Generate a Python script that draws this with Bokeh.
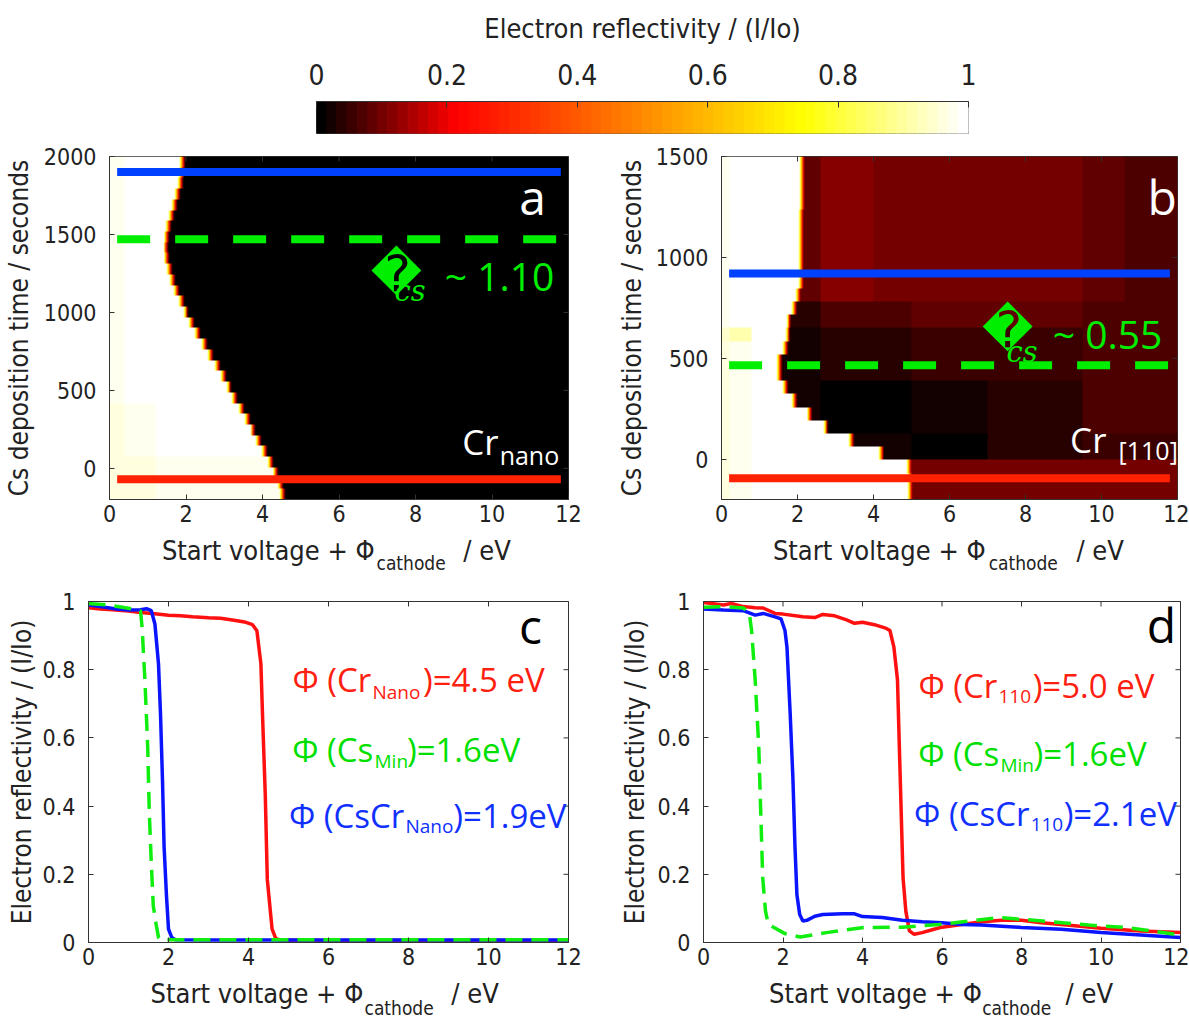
import numpy as np
from bokeh.plotting import figure
from bokeh.models import FixedTicker, Label, LinearColorMapper, Range1d
from bokeh.layouts import column, row
from bokeh.embed import file_html
from bokeh.resources import INLINE

# ---------------------------------------------------------------- data
energy_ticks = [0, 2, 4, 6, 8, 10, 12]
a_time_ticks = [0, 500, 1000, 1500, 2000]
b_time_ticks = [0, 500, 1000, 1500]
refl_ticks = [0, 0.2, 0.4, 0.6, 0.8, 1]
refl_tick_labels = ["0", "0.2", "0.4", "0.6", "0.8", "1"]

# stepped "hot" colour scale
cmap_stops = [0.0, 0.21, 0.75, 1.0]
cmap_red = [0, 255, 255, 255]
cmap_green = [0, 0, 255, 255]
cmap_blue = [0, 0, 0, 255]
n_levels = 64

# panel a : Cr nano map (rows bottom -> top, 32 rows over -200..2000 s)
a_time_span = [-200, 2000]
a_edge_eV = [4.50, 4.45, 4.33, 4.18, 4.02, 3.87, 3.72, 3.58, 3.42, 3.25, 3.10,
             2.95, 2.79, 2.62, 2.45, 2.28, 2.12, 1.97, 1.84, 1.72, 1.62, 1.54,
             1.48, 1.46, 1.47, 1.53, 1.60, 1.68, 1.76, 1.82, 1.86, 1.87]
a_plateau_t = [-200, 100, 400, 800, 2000]
a_plateau_e = [0, 0.4, 1.2, 12]
a_plateau = [[0.955, 0.96, 0.97],
             [0.96, 0.97, 0.985],
             [0.97, 0.985, 0.995],
             [0.975, 0.995, 0.995]]
a_dark = 0.012

# panel b : Cr[110] map (rows bottom -> top, 26 rows over -200..1500 s)
b_time_span = [-200, 1500]
b_edge_eV = [4.95, 4.95, 4.92, 4.17, 3.39, 2.73, 2.29, 1.90, 1.64, 1.50, 1.50,
             1.64, 1.72, 1.76, 1.90, 2.01, 2.07, 2.07, 2.08, 2.08, 2.08, 2.08,
             2.09, 2.09, 2.10, 2.10]
b_plateau_t = [-200, 0, 560, 680, 1500]
b_plateau_e = [0, 0.2, 0.8, 12]
b_plateau = [[0.96, 0.97, 0.985],
             [0.965, 0.975, 0.99],
             [0.95, 0.91, 0.985],
             [0.975, 0.985, 0.995]]
b_dark_t = [-200, 0, 150, 400, 650, 800, 1500]
b_dark_e = [0, 2.6, 4, 5, 7, 9.5, 10.6, 12]
b_dark = [[0.086, 0.086, 0.086, 0.102, 0.102, 0.102, 0.102],
          [0.023, 0.023, 0.023, 0.008, 0.039, 0.055, 0.055],
          [0.023, 0.008, 0.008, 0.023, 0.039, 0.070, 0.070],
          [0.023, 0.039, 0.039, 0.055, 0.055, 0.070, 0.070],
          [0.039, 0.070, 0.070, 0.086, 0.086, 0.070, 0.070],
          [0.086, 0.117, 0.102, 0.102, 0.102, 0.086, 0.070]]

# reflectivity profile across a cut-off edge (0.025 eV columns)
edge_profile = [0.90, 0.72, 0.50, 0.30, 0.15, 0.06]

# spectra marked on the maps
a_spec_time = [-70, 1470, 1900]
b_spec_time = [-95, 465, 920]
spec_colors = ["#ff2200", "#00ee00", "#0040ff"]
spec_dash = ["solid", "33 25", "solid"]
spec_span = [0.2, 11.8]

# panel c : Cr nano reflectivity curves
c_red_x = [0, 0.3, 0.6, 1.0, 1.3, 1.6, 2.0, 2.3, 2.6, 3.0, 3.3, 3.6, 3.9, 4.1,
           4.21, 4.31, 4.35, 4.42, 4.47, 4.51, 4.59, 4.68, 4.8, 6, 8, 10, 12]
c_red_y = [0.982, 0.978, 0.976, 0.972, 0.968, 0.965, 0.960, 0.958, 0.955, 0.952,
           0.951, 0.946, 0.940, 0.932, 0.914, 0.817, 0.67, 0.43, 0.185, 0.136,
           0.039, 0.012, 0.007, 0.006, 0.006, 0.006, 0.006]
c_blue_x = [0, 0.3, 0.7, 1.0, 1.3, 1.45, 1.57, 1.66, 1.75, 1.8, 1.85, 1.89, 1.95,
            2.0, 2.08, 2.17, 3, 6, 9, 12]
c_blue_y = [0.99, 0.985, 0.978, 0.975, 0.976, 0.979, 0.973, 0.934, 0.817, 0.67,
            0.475, 0.28, 0.136, 0.039, 0.015, 0.008, 0.007, 0.007, 0.007, 0.007]
c_green_x = [0, 0.5, 1.0, 1.3, 1.34, 1.41, 1.48, 1.52, 1.57, 1.62, 1.69, 1.75,
             1.8, 3, 6, 9, 12]
c_green_y = [0.994, 0.99, 0.98, 0.973, 0.924, 0.77, 0.574, 0.38, 0.233, 0.107,
             0.054, 0.015, 0.008, 0.008, 0.008, 0.008, 0.008]

# panel d : Cr[110] reflectivity curves
d_red_x = [0, 0.3, 0.5, 0.7, 1.0, 1.3, 1.5, 1.8, 2.0, 2.5, 2.8, 3.0, 3.3, 3.6,
           3.8, 4.0, 4.3, 4.6, 4.69, 4.79, 4.88, 4.95, 5.02, 5.09, 5.18, 5.3,
           5.5, 5.8, 6.0, 6.5, 7.0, 7.5, 8.0, 8.5, 9.0, 10.0, 11.0, 12.0]
d_red_y = [0.997, 0.993, 0.99, 0.994, 0.985, 0.982, 0.981, 0.965, 0.963, 0.955,
           0.953, 0.962, 0.958, 0.946, 0.936, 0.939, 0.932, 0.921, 0.915, 0.866,
           0.77, 0.479, 0.19, 0.092, 0.034, 0.024, 0.029, 0.039, 0.045, 0.053,
           0.061, 0.065, 0.065, 0.058, 0.053, 0.042, 0.034, 0.029]
d_blue_x = [0, 0.5, 1.0, 1.3, 1.5, 1.8, 1.95, 2.05, 2.1, 2.18, 2.25, 2.3, 2.35,
            2.42, 2.5, 2.6, 2.8, 3.0, 3.5, 3.8, 4.0, 4.5, 5.0, 5.5, 6.0, 6.5,
            7.0, 7.5, 8.0, 9.0, 10.0, 11.0, 12.0]
d_blue_y = [0.978, 0.975, 0.973, 0.96, 0.965, 0.955, 0.949, 0.915, 0.866, 0.673,
            0.479, 0.285, 0.14, 0.082, 0.063, 0.065, 0.077, 0.082, 0.084, 0.084,
            0.076, 0.073, 0.065, 0.061, 0.058, 0.053, 0.051, 0.048, 0.044, 0.039,
            0.029, 0.022, 0.015]
d_green_x = [0, 0.5, 1.0, 1.15, 1.21, 1.3, 1.39, 1.44, 1.49, 1.56, 1.63, 2.05,
             2.43, 3.09, 4.03, 5.0, 5.92, 6.86, 7.43, 8.0, 8.75, 9.69, 10.63, 12.0]
d_green_y = [0.983, 0.985, 0.981, 0.968, 0.915, 0.77, 0.576, 0.382, 0.189, 0.092,
             0.053, 0.026, 0.016, 0.029, 0.044, 0.045, 0.053, 0.065, 0.073, 0.068,
             0.061, 0.051, 0.044, 0.022]
curve_colors = {"red": "#ff1010", "green": "#10ee10", "blue": "#0a14ff"}

# work-function annotations: (main, sub, rest, x_sub, x_rest, y_main, y_sub, colour)
c_notes = [("Φ (Cr", "Nano", ")=4.5 eV", 7.10, 8.36, 0.736, 0.716, "#ff2010"),
           ("Φ (Cs", "Min", ")=1.6eV", 7.15, 7.96, 0.531, 0.514, "#00e000"),
           ("Φ (CsCr", "Nano", ")=1.9eV", 7.925, 9.12, 0.338, 0.323, "#1030ff")]
d_notes = [("Φ (Cr", "110", ")=5.0 eV", 7.42, 8.28, 0.720, 0.703, "#ff2010"),
           ("Φ (Cs", "Min", ")=1.6eV", 7.47, 8.30, 0.520, 0.500, "#00e000"),
           ("Φ (CsCr", "110", ")=2.1eV", 8.23, 9.06, 0.345, 0.328, "#1030ff")]

# ---------------------------------------------------------------- styling
FC = "DejaVu Sans Condensed"
FT = "Open Sans"
AXC = "#333333"
TXC = "#222222"
OPEN_SANS_SHIFT = 0.35   # em; baseline correction measured for Open Sans labels

levels = np.arange(n_levels) / (n_levels - 1)
rr = np.interp(levels, cmap_stops, cmap_red)
gg = np.interp(levels, cmap_stops, cmap_green)
bb = np.interp(levels, cmap_stops, cmap_blue)
palette = ["#%02x%02x%02x" % (int(round(r)), int(round(g)), int(round(b))) for r, g, b in zip(rr, gg, bb)]
mapper = LinearColorMapper(palette=palette, low=0, high=1)


def lookup(grid, e_edges, t_edges, e, t):
    i = min(max(np.searchsorted(t_edges, t, side="right") - 1, 0), len(t_edges) - 2)
    j = min(max(np.searchsorted(e_edges, e, side="right") - 1, 0), len(e_edges) - 2)
    return grid[i][j]


def build_map(edges, span, plateau, pl_e, pl_t, dark_fn, n_cols=480, sub=11):
    n_rows = len(edges)
    dt = (span[1] - span[0]) / n_rows
    w = 12.0 / n_cols
    img = np.zeros((n_rows, n_cols))
    for r in range(n_rows):
        t = span[0] + (r + 0.5) * dt
        for c in range(n_cols):
            e = (c + 0.5) * w
            k = int(np.floor((e - edges[r]) / w)) + 2
            bg = dark_fn(e, t)
            if k < 0:
                v = lookup(plateau, pl_e, pl_t, e, t)
            elif k >= len(edge_profile):
                v = bg
            else:
                v = max(edge_profile[k], bg)
            img[r, c] = v
    return np.repeat(img, sub, axis=0)


def base_fig(width, height, bl, br, bt, bb_, yr, yticks, ylabel, ystand, yover=None):
    p = figure(width=width, height=height, x_range=Range1d(0, 12), y_range=Range1d(*yr),
               output_backend="svg", toolbar_location=None,
               min_border_left=bl, min_border_right=br, min_border_top=bt, min_border_bottom=bb_)
    p.grid.visible = False
    p.outline_line_color = AXC
    p.background_fill_color = "white"
    for ax, ticks, so in ((p.xaxis[0], energy_ticks, 5), (p.yaxis[0], yticks, 13)):
        ax.ticker = FixedTicker(ticks=ticks)
        ax.major_tick_in = 5
        ax.major_tick_out = 0
        ax.minor_tick_line_color = None
        ax.axis_line_color = AXC
        ax.major_tick_line_color = AXC
        ax.major_label_text_font = FC
        ax.major_label_text_font_size = "23px"
        ax.major_label_text_color = TXC
        ax.major_label_standoff = so
    if yover:
        p.yaxis[0].major_label_overrides = yover
    p.yaxis[0].axis_label = ylabel
    p.yaxis[0].axis_label_text_font = FC
    p.yaxis[0].axis_label_text_font_size = "26px"
    p.yaxis[0].axis_label_text_font_style = "normal"
    p.yaxis[0].axis_label_text_color = TXC
    p.yaxis[0].axis_label_standoff = ystand
    return p


def mirror_ticks(p, yticks):
    # inward tick marks on the top and right frame edges
    n = len(energy_ticks)
    p.scatter(x=energy_ticks, y=[p.y_range.end] * n, marker="dash", angle=np.pi / 2,
              size=10, line_color=AXC, line_width=1)
    m = len(yticks)
    p.scatter(x=[p.x_range.end] * m, y=yticks, marker="dash", size=10,
              line_color=AXC, line_width=1)


def label_fig(panel, width, height, bl, br, x_main, x_sub, x_rest, y_main, y_sub):
    q = figure(width=width, height=height, x_range=panel.x_range, y_range=Range1d(0, height),
               x_axis_location=None, y_axis_location=None,
               output_backend="svg", toolbar_location=None,
               min_border_left=bl, min_border_right=br, min_border_top=0, min_border_bottom=0)
    q.grid.visible = False
    q.outline_line_color = None
    q.add_layout(Label(x=x_main, y=y_main, text="Start voltage + Φ", text_align="right",
                       text_font=FC, text_font_size="27px", text_color=TXC))
    q.add_layout(Label(x=x_sub, y=y_sub, text="cathode", text_align="left",
                       text_font=FC, text_font_size="19px", text_color=TXC))
    q.add_layout(Label(x=x_rest, y=y_main, text="/ eV", text_align="left",
                       text_font=FC, text_font_size="27px", text_color=TXC))
    return q


def lab(p, ppu, x, y, text, size, color, font=FT, align="left", style="normal", baseline="alphabetic"):
    if font == FT and baseline == "alphabetic":
        y = y + OPEN_SANS_SHIFT * size / ppu
    p.add_layout(Label(x=x, y=y, text=text, text_font=font, text_font_size="%dpx" % size,
                       text_color=color, text_align=align, text_font_style=style,
                       text_baseline=baseline))


# ---------------------------------------------------------------- colour bar
cb = figure(width=1189, height=142, x_range=Range1d(0, 1), y_range=Range1d(0, 1),
            x_axis_location="above", y_axis_location=None,
            output_backend="svg", toolbar_location=None,
            min_border_left=316, min_border_right=221, min_border_top=101, min_border_bottom=9)
cb.grid.visible = False
cb.outline_line_color = "#555555"
lefts = [i / n_levels for i in range(n_levels)]
rights = [(i + 1) / n_levels for i in range(n_levels)]
cb.quad(left=lefts, right=rights, bottom=0, top=1, fill_color=palette, line_color=palette, line_width=1)
cax = cb.xaxis[0]
cax.ticker = FixedTicker(ticks=refl_ticks)
cax.major_label_overrides = dict(zip(refl_ticks, refl_tick_labels))
cax.major_tick_in = 6
cax.major_tick_out = 0
cax.minor_tick_line_color = None
cax.axis_line_color = AXC
cax.major_tick_line_color = AXC
cax.major_label_text_font = FC
cax.major_label_text_font_size = "28px"
cax.major_label_text_color = TXC
cax.major_label_standoff = 17
cax.axis_label = "Electron reflectivity / (I/Io)"
cax.axis_label_text_font = FC
cax.axis_label_text_font_size = "27px"
cax.axis_label_text_font_style = "normal"
cax.axis_label_text_color = TXC
cax.axis_label_standoff = 17

# ---------------------------------------------------------------- panel a
A_PPU = 343 / 2200
pa = base_fig(600, 390, 107, 32, 14, 33, a_time_span, a_time_ticks,
              "Cs deposition time / seconds", 7)
img_a = build_map(a_edge_eV, a_time_span, a_plateau, a_plateau_e, a_plateau_t,
                  lambda e, t: a_dark, sub=11)
pa.image(image=[img_a], x=0, y=a_time_span[0], dw=12, dh=a_time_span[1] - a_time_span[0],
         color_mapper=mapper)
for t, col, dash in zip(a_spec_time, spec_colors, spec_dash):
    pa.line(x=spec_span, y=[t, t], line_color=col, line_width=8, line_dash=dash, line_cap="butt")
mirror_ticks(pa, a_time_ticks)
lab(pa, A_PPU, 11.06, 1634, "a", 48, "white", align="center")
lab(pa, A_PPU, 7.5, 1244, "\ufffd", 50, "#00ee00", font="DejaVu Sans", align="center", baseline="middle")
lab(pa, A_PPU, 7.45, 1135, "cs", 29, "#00ee00", font="DejaVu Serif", style="italic")
lab(pa, A_PPU, 11.63, 1147, "~ 1.10", 39, "#00ee00", align="right")
lab(pa, A_PPU, 10.17, 96, "Cr", 35, "white", align="right")
lab(pa, A_PPU, 10.2, 32, "nano", 25, "white")
la = label_fig(pa, 600, 45, 107, 32, 6.93, 6.98, 9.25, 12, 4)

# ---------------------------------------------------------------- panel b
B_PPU = 343 / 1700
pb = base_fig(589, 390, 121, 12, 14, 33, b_time_span, b_time_ticks,
              "Cs deposition time / seconds", 6)
img_b = build_map(b_edge_eV, b_time_span, b_plateau, b_plateau_e, b_plateau_t,
                  lambda e, t: lookup(b_dark, b_dark_e, b_dark_t, e, t), sub=13)
pb.image(image=[img_b], x=0, y=b_time_span[0], dw=12, dh=b_time_span[1] - b_time_span[0],
         color_mapper=mapper)
for t, col, dash in zip(b_spec_time, spec_colors, spec_dash):
    pb.line(x=spec_span, y=[t, t], line_color=col, line_width=8, line_dash=dash, line_cap="butt")
mirror_ticks(pb, b_time_ticks)
lab(pb, B_PPU, 11.6, 1218, "b", 48, "white", align="center")
lab(pb, B_PPU, 7.53, 638, "\ufffd", 50, "#00ee00", font="DejaVu Sans", align="center", baseline="middle")
lab(pb, B_PPU, 7.5, 531, "cs", 29, "#00ee00", font="DejaVu Serif", style="italic")
lab(pb, B_PPU, 11.6, 553, "~ 0.55", 39, "#00ee00", align="right")
lab(pb, B_PPU, 10.13, 38, "Cr", 35, "white", align="right")
lab(pb, B_PPU, 10.45, 0, "[110]", 25, "white")
lb = label_fig(pb, 589, 45, 121, 12, 6.95, 7.03, 9.34, 12, 4)

# ---------------------------------------------------------------- panels c, d
CD_PPU = 341.0
yover = dict(zip(refl_ticks, refl_tick_labels))
pc = base_fig(600, 398, 88, 32, 24, 33, [0, 1], refl_ticks,
              "Electron reflectivity / (I/Io)", 3, yover)
pd_ = base_fig(589, 398, 103, 9, 24, 33, [0, 1], refl_ticks,
               "Electron reflectivity / (I/Io)", 5, yover)

for p, (rx, ry), (bx, by), (gx, gy) in (
        (pc, (c_red_x, c_red_y), (c_blue_x, c_blue_y), (c_green_x, c_green_y)),
        (pd_, (d_red_x, d_red_y), (d_blue_x, d_blue_y), (d_green_x, d_green_y))):
    p.line(x=rx, y=ry, line_color=curve_colors["red"], line_width=3.5)
    p.line(x=bx, y=by, line_color=curve_colors["blue"], line_width=3.5)
    p.line(x=gx, y=gy, line_color=curve_colors["green"], line_width=3.5, line_dash="17 9")
mirror_ticks(pc, refl_ticks)
mirror_ticks(pd_, refl_ticks)

lab(pc, CD_PPU, 11.05, 0.88, "c", 48, "black", align="center")
lab(pd_, CD_PPU, 11.52, 0.883, "d", 48, "black", align="center")
for p, notes in ((pc, c_notes), (pd_, d_notes)):
    for main, subt, rest, xs, xr, ym, ys, col in notes:
        lab(p, CD_PPU, xs - 0.03, ym, main, 33, col, align="right")
        lab(p, CD_PPU, xs, ys, subt, 19, col)
        lab(p, CD_PPU, xr, ym, rest, 33, col)
lc = label_fig(pc, 600, 48, 88, 32, 6.87, 6.9, 9.07, 15, 5)
ld = label_fig(pd_, 589, 48, 103, 9, 7.0, 7.01, 9.11, 15, 5)

layout = column(cb, row(column(pa, la), column(pb, lb)), row(column(pc, lc), column(pd_, ld)))
open("out.html", "w").write(file_html(layout, INLINE))
